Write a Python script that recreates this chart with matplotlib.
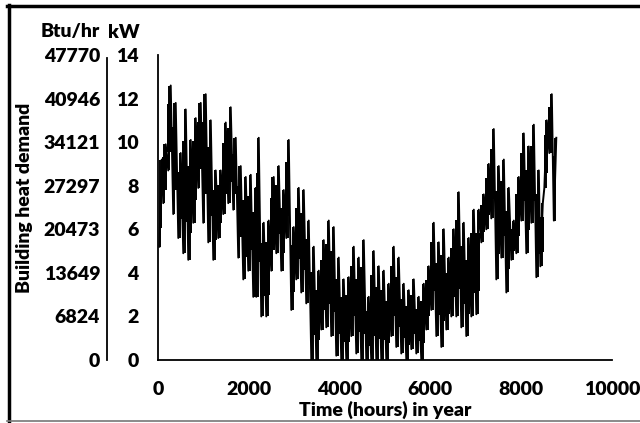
import matplotlib
matplotlib.use("Agg")
import matplotlib.pyplot as plt
from matplotlib.lines import Line2D

# hour of each reading (bucket centre), with the low and high demand in kW seen there
hours = [55, 143, 253, 363, 474, 584, 694, 804, 914, 1024,
         1135, 1245, 1355, 1465, 1575, 1685, 1795, 1906, 2016, 2126,
         2192, 2302, 2412, 2522, 2633, 2743, 2853, 2963, 3073, 3183,
         3293, 3404, 3514, 3624, 3734, 3844, 3954, 4064, 4175, 4285,
         4395, 4505, 4615, 4725, 4836, 4946, 5056, 5166, 5276, 5386,
         5497, 5607, 5717, 5827, 5937, 6047, 6158, 6268, 6378, 6488,
         6598, 6708, 6818, 6929, 7039, 7149, 7259, 7369, 7479, 7590,
         7700, 7810, 7920, 8030, 8140, 8251, 8361, 8449, 8537, 8647, 8746]
kw_high = [9.2, 9.9, 12.6, 11.8, 9.5, 11.5, 10.1, 11.1, 11.8, 12.2,
           11.0, 8.7, 8.7, 10.9, 11.6, 10.2, 8.9, 8.4, 8.5, 7.9,
           10.2, 6.3, 6.4, 8.4, 8.9, 7.8, 10.1, 6.1, 7.9, 7.8,
           6.4, 5.2, 4.1, 5.5, 6.4, 6.1, 4.7, 3.7, 3.8, 5.2,
           4.7, 5.5, 2.9, 5.0, 4.3, 4.1, 3.5, 5.2, 4.7, 3.5,
           3.2, 3.7, 2.9, 3.5, 4.3, 6.3, 5.4, 6.0, 4.7, 6.0,
           7.7, 6.3, 5.6, 6.9, 6.9, 7.6, 9.0, 10.6, 8.9, 9.2,
           7.9, 6.4, 8.4, 10.4, 9.8, 10.8, 8.7, 7.2, 11.0, 12.2, 10.2]
kw_low = [5.2, 7.2, 8.7, 6.7, 5.6, 4.9, 4.6, 6.3, 7.9, 6.3,
          5.4, 4.6, 5.6, 6.7, 7.2, 6.9, 4.7, 3.7, 4.1, 2.9,
          2.9, 2.0, 2.0, 4.1, 4.9, 4.1, 5.6, 2.3, 3.7, 3.1,
          2.6, 0.0, 0.0, 1.4, 1.5, 1.1, 0.2, 0.0, 0.0, 1.1,
          0.3, 0.0, 0.0, 0.0, 0.0, 0.0, 0.0, 1.1, 0.6, 0.3,
          0.0, 0.5, 0.3, 0.0, 1.4, 2.3, 1.1, 0.6, 1.4, 2.0,
          2.0, 1.5, 1.1, 2.0, 2.1, 5.4, 6.0, 6.5, 3.7, 4.7,
          3.1, 4.6, 4.9, 6.4, 4.9, 6.3, 3.8, 4.3, 7.9, 9.5, 6.4]

kw_ticks = [0, 2, 4, 6, 8, 10, 12, 14]
btu_labels = ["0", "6824", "13649", "20473", "27297", "34121", "40946", "47770"]
x_ticks = [0, 2000, 4000, 6000, 8000, 10000]

plt.rcParams['font.family'] = ['Lato', 'DejaVu Sans']
FS = 14
FW = 'heavy'

fig = plt.figure(figsize=(6.4, 4.23), dpi=100)

# main axes (kW)
ax = fig.add_axes([158/640, 1-360/423, 454/640, 305/423])
# solid core of the band, then the spikes out to the low / high readings
core_lo = [lo + 0.22 * (hi - lo) for lo, hi in zip(kw_low, kw_high)]
core_hi = [hi - 0.22 * (hi - lo) for lo, hi in zip(kw_low, kw_high)]
ax.fill_between(hours, core_lo, core_hi, step='mid', color='black', lw=0)
xs, ys = [], []
for h, lo, hi in zip(hours, kw_low, kw_high):
    xs += [h - 27, h + 27]
    ys += [lo, hi]
ax.plot(xs, ys, color='black', lw=1.4)
ax.vlines(hours, kw_low, kw_high, color='black', lw=1.4)
ax.set_xlim(0, 10000)
ax.set_ylim(0, 14)
ax.set_xticks(x_ticks)
ax.set_xticklabels([str(t) for t in x_ticks], fontsize=FS, fontweight=FW)
ax.set_yticks(kw_ticks)
ax.set_yticklabels([str(t) for t in kw_ticks], fontsize=FS, fontweight=FW)
ax.tick_params(length=0)
ax.tick_params(axis='y', pad=14)
ax.tick_params(axis='x', pad=15)
for s in ['top', 'right']:
    ax.spines[s].set_visible(False)
for s in ['left', 'bottom']:
    ax.spines[s].set_linewidth(1.3)
ax.set_xlabel("Time (hours) in year", fontsize=FS, fontweight=FW)
ax.xaxis.set_label_coords((385 - 158) / 454, -(410 - 360) / 305)
ax.xaxis.label.set_va('center')

# secondary scale (Btu/hr)
ax2 = fig.add_axes([107/640, 1-360/423, 0.001, 305/423])
ax2.set_ylim(0, 14)
ax2.set_yticks(kw_ticks)
ax2.set_yticklabels(btu_labels, fontsize=FS, fontweight=FW)
ax2.set_xticks([])
ax2.tick_params(length=0, pad=5)
for s in ['top', 'right', 'bottom']:
    ax2.spines[s].set_visible(False)
ax2.spines['left'].set_linewidth(1.3)
ax2.spines['left'].set_bounds(0, 13.85)
ax2.patch.set_visible(False)

fig.text(70/640, 1-32/423, "Btu/hr", ha='center', va='center', fontsize=FS, fontweight=FW)
fig.text(124/640, 1-32/423, "kW", ha='center', va='center', fontsize=FS, fontweight=FW)
fig.text(25/640, 1-198/423, "Building heat demand", rotation=90, ha='center', va='center',
         fontsize=FS, fontweight=FW)

# frame around the picture
fig.add_artist(Line2D([8.5/640, 8.5/640], [1-421/423, 1-5/423], color='black', lw=2.5))
fig.add_artist(Line2D([7/640, 1], [1-6/423, 1-6/423], color='black', lw=2.5))
fig.add_artist(Line2D([7/640, 1], [1-421/423, 1-421/423], color='#777777', lw=1.2))

fig.savefig("out.png", dpi=100)
